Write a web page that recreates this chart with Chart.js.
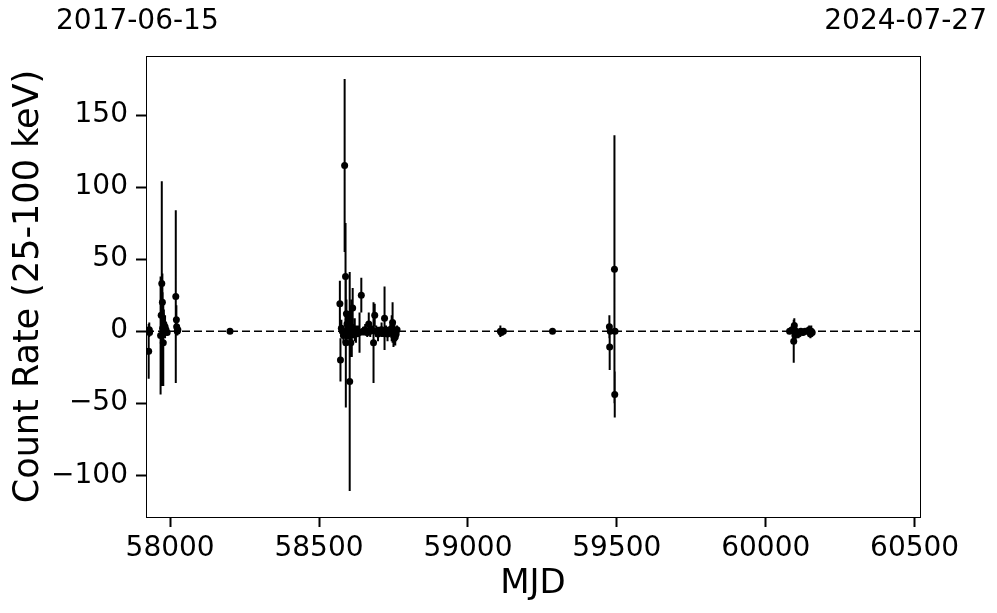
<!DOCTYPE html>
<html>
<head>
<meta charset="utf-8">
<script src="https://cdn.jsdelivr.net/npm/chart.js@4.4.1/dist/chart.umd.min.js"></script>
<style>
  html, body { margin: 0; padding: 0; background: #fff; }
  #wrap { width: 997px; height: 613px; }
</style>
</head>
<body>
<div id="wrap"><canvas id="lc" width="997" height="613"></canvas></div>
<script>
// light curve: MJD, count rate (25-100 keV), 1-sigma error
const mjd = [
  57928, 57929, 57930, 57931,
  57968, 57970, 57972, 57974, 57975, 57977, 57979, 57981, 57983, 57986, 57990,
  58019, 58021, 58022, 58024, 58026,
  58201,
  58570, 58572, 58575, 58578, 58582, 58586, 58589, 58590, 58592, 58594,
  58596, 58598, 58600, 58603, 58605, 58607, 58610, 58613, 58616, 58620,
  58624, 58630, 58636, 58642, 58648, 58655, 58662, 58667, 58672, 58678,
  58683, 58687, 58692, 58698, 58704, 58710, 58716, 58720, 58725, 58730,
  58735, 58740, 58744, 58747, 58750, 58753, 58756, 58759, 58762,
  59109, 59112, 59119, 59284,
  59475, 59476, 59478, 59492, 59493, 59494,
  60080, 60088, 60094, 60096, 60098, 60102, 60106, 60110, 60118, 60125,
  60132, 60140, 60146, 60150, 60153, 60156
];
const rate = [
  -14, 0, 1, -1,
  -3, 11, 33, 20, 2, -8, 5, 0, 3, 1, -1,
  24, 8, 3, 0, 1,
  0,
  19, -20, 2, 0, -3, 115, 38, -8, 12, 5,
  0, 8, -2, -35, 3, -8, 2, 16, 0, 1,
  -2, 0, -1, 25, 0, 1, -1, 5, 0, 1,
  -8, 11, 0, -2, 0, 1, -1, 9, 0, -2,
  0, 1, 2, 6, -3, 0, -4, -2, 1,
  0, -1, 0, 0,
  3, -11, 0, 43, -44, 0,
  0, 1, -7, 4, -3, 0, -1, -2, 0, -1,
  0, 0, 1, -2, 0, -1
];
const err = [
  19, 3, 5, 2,
  41, 25, 71, 20, 25, 30, 10, 4, 8, 3, 2,
  60, 10, 6, 3, 2,
  1,
  16, 15, 6, 4, 5, 60, 37, 45, 10, 8,
  6, 6, 4, 76, 12, 10, 20, 14, 5, 8,
  6, 4, 14, 12, 3, 4, 3, 8, 4, 3,
  28, 8, 4, 5, 3, 5, 3, 22, 4, 5,
  3, 4, 9, 14, 8, 5, 6, 5, 3,
  4, 2, 1, 1,
  8, 16, 2, 93, 16, 2,
  2, 3, 15, 5, 4, 3, 2, 3, 2, 2,
  2, 2, 3, 3, 4, 2
];
const xRange = [57919, 60518];
const yRange = [-129, 191];
const xTicks = [58000, 58500, 59000, 59500, 60000, 60500];
const yTicks = [-100, -50, 0, 50, 100, 150];
const startDate = '2017-06-15';
const endDate = '2024-07-27';

const FONT = 'DejaVu Sans';

const errorBars = {
  id: 'errorBars',
  beforeDatasetsDraw(chart) {
    const xs = chart.scales.x, ys = chart.scales.y, ctx = chart.ctx;
    ctx.save();
    ctx.strokeStyle = '#000';
    ctx.lineWidth = 2;
    ctx.beginPath();
    for (let i = 0; i < mjd.length; i++) {
      const px = xs.getPixelForValue(mjd[i]);
      ctx.moveTo(px, ys.getPixelForValue(rate[i] - err[i]));
      ctx.lineTo(px, ys.getPixelForValue(rate[i] + err[i]));
    }
    ctx.stroke();
    ctx.restore();
  }
};

const frame = {
  id: 'frame',
  afterDraw(chart) {
    const a = chart.chartArea, ctx = chart.ctx;
    ctx.save();
    ctx.strokeStyle = '#000';
    ctx.lineWidth = 1;
    ctx.strokeRect(a.left + 0.5, a.top + 0.5, a.right - a.left, a.bottom - a.top);
    ctx.fillStyle = '#000';
    ctx.font = '28px "' + FONT + '"';
    ctx.textBaseline = 'middle';
    ctx.textAlign = 'left';
    ctx.fillText(startDate, 56, 22);
    ctx.textAlign = 'right';
    ctx.fillText(endDate, 987, 22);
    ctx.restore();
  }
};

const pts = mjd.map((m, i) => ({ x: m, y: rate[i] }));

new Chart(document.getElementById('lc'), {
  type: 'scatter',
  data: {
    datasets: [
      {
        type: 'line',
        data: [{ x: xRange[0], y: 0 }, { x: xRange[1], y: 0 }],
        borderColor: '#000',
        borderWidth: 1.5,
        borderDash: [8, 4],
        pointRadius: 0,
        fill: false
      },
      {
        data: pts,
        backgroundColor: '#000',
        borderColor: '#000',
        pointRadius: 3.5,
        pointBorderWidth: 0
      }
    ]
  },
  options: {
    responsive: false,
    animation: false,
    layout: { padding: { left: 0, right: 77, top: 56, bottom: 0 } },
    plugins: { legend: { display: false }, tooltip: { enabled: false } },
    scales: {
      x: {
        type: 'linear',
        min: xRange[0],
        max: xRange[1],
        afterFit: s => { s.height = 96; },
        afterBuildTicks: s => { s.ticks = xTicks.map(v => ({ value: v })); },
        grid: { drawOnChartArea: false, tickLength: 10, tickWidth: 2, tickColor: '#000' },
        border: { display: false },
        ticks: {
          autoSkip: false,
          color: '#000',
          padding: 5,
          maxRotation: 0,
          font: { family: FONT, size: 28 },
          callback: v => String(v)
        },
        title: {
          display: true,
          text: 'MJD',
          color: '#000',
          padding: { top: 0, bottom: 8 },
          font: { family: FONT, size: 34 }
        }
      },
      y: {
        type: 'linear',
        min: yRange[0],
        max: yRange[1],
        afterFit: s => { s.width = 146; },
        afterBuildTicks: s => { s.ticks = yTicks.map(v => ({ value: v })); },
        grid: { drawOnChartArea: false, tickLength: 10, tickWidth: 2, tickColor: '#000' },
        border: { display: false },
        ticks: {
          autoSkip: false,
          color: '#000',
          padding: 8,
          font: { family: FONT, size: 28 },
          callback: v => v < 0 ? '\u2212' + Math.abs(v) : String(v)
        },
        title: {
          display: true,
          text: 'Count Rate (25-100 keV)',
          color: '#000',
          padding: { top: 8, bottom: 0 },
          font: { family: FONT, size: 35 }
        }
      }
    }
  },
  plugins: [errorBars, frame]
});
</script>
</body>
</html>
